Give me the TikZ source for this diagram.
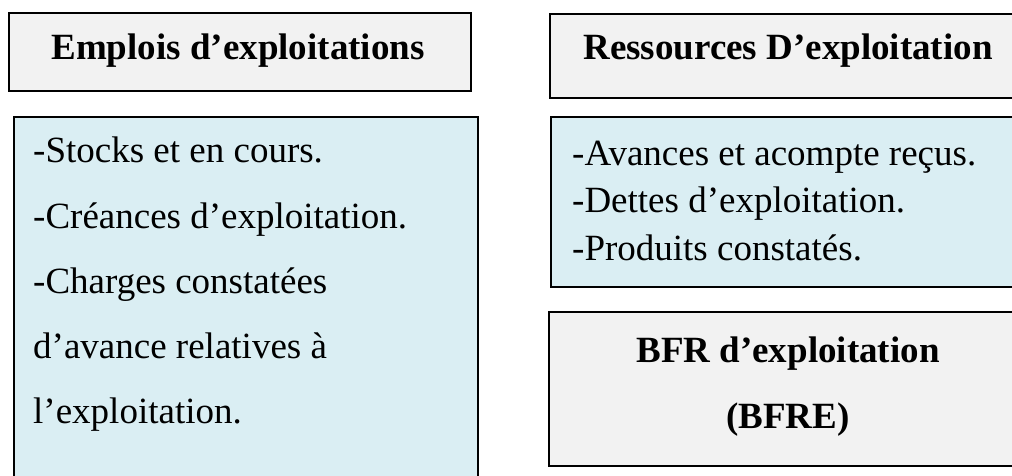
\documentclass[tikz,border=0pt]{standalone}
\usepackage{fontspec}
\setmainfont{Liberation Serif}
\definecolor{hdrfill}{HTML}{F2F2F2}
\definecolor{listfill}{HTML}{DAEEF3}
\begin{document}
\begin{tikzpicture}[x=1pt,y=-1pt,
  panel/.style={draw=black, line width=1.8pt, anchor=north west, inner sep=0pt},
  hdrbox/.style={panel, fill=hdrfill},
  listbox/.style={panel, fill=listfill},
  title/.style={font=\fontsize{37}{44}\selectfont\bfseries, anchor=base, inner sep=0pt},
  item/.style={font=\fontsize{37}{44}\selectfont, anchor=base west, inner sep=0pt}]
\useasboundingbox (0,0) rectangle (1012,476);
\clip (0,0) rectangle (1012,476);

% left column: uses
\node[hdrbox, minimum width=462pt, minimum height=78pt] (empH) at (8,12) {};
\node[title] (empT) at (238,60) {Emplois d’exploitations};
\node[listbox, minimum width=464pt, minimum height=380pt] (empL) at (13,116) {};
\node[item] (e1) at (33,163) {-Stocks et en cours.};
\node[item] (e2) at (33,228) {-Créances d’exploitation.};
\node[item] (e3) at (33,293) {-Charges constatées};
\node[item] (e4) at (33,358) {d’avance relatives à};
\node[item] (e5) at (33,423) {l’exploitation.};

% right column: resources and BFRE
\node[hdrbox, minimum width=480pt, minimum height=84pt] (resH) at (549,13) {};
\node[title] (resT) at (788,60) {Ressources D’exploitation};
\node[listbox, minimum width=480pt, minimum height=170pt] (resL) at (550,116) {};
\node[item] (r1) at (572,165) {-Avances et acompte reçus.};
\node[item] (r2) at (572,212) {-Dettes d’exploitation.};
\node[item] (r3) at (572,260) {-Produits constatés.};
\node[hdrbox, minimum width=480pt, minimum height=154pt] (bfrB) at (548,311) {};
\node[title] (b1) at (788,362) {BFR d’exploitation};
\node[title] (b2) at (788,428) {(BFRE)};
\end{tikzpicture}
\end{document}
